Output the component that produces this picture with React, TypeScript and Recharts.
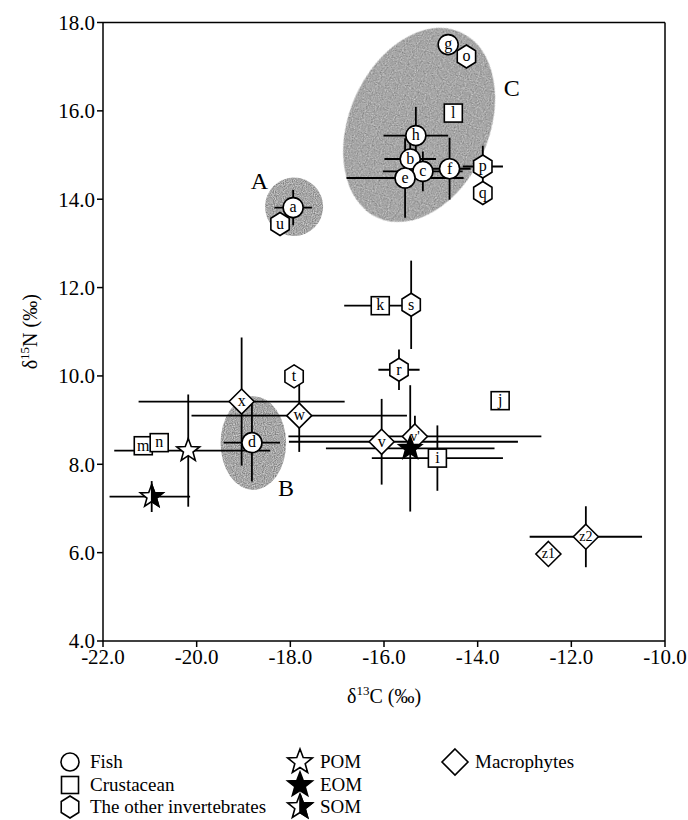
import React from 'react';
import {
  ScatterChart,
  Scatter,
  XAxis,
  YAxis,
  ErrorBar,
  ReferenceArea,
  ReferenceLine,
  ReferenceDot,
  Legend,
} from 'recharts';

const FONT = '"Liberation Serif", "Times New Roman", Times, serif';

// ---------- Fish (circles) ----------
const fishLabels = ['a', 'b', 'c', 'd', 'e', 'f', 'g', 'h'];
const fishC = [-17.94, -15.44, -15.17, -18.82, -15.55, -14.6, -14.63, -15.32];
const fishN = [13.81, 14.91, 14.63, 8.49, 14.48, 14.69, 17.5, 15.44];
const fishCErr = [0.4, 0.55, 0.85, 0.6, 1.25, 0.45, 0, 0.69];
const fishNErr = [0.4, 0.35, 0.45, 0.88, 0.9, 0.7, 0, 0.65];

// ---------- Crustacean (squares) ----------
const crusLabels = ['i', 'j', 'k', 'l', 'm', 'n'];
const crusC = [-14.86, -13.52, -16.08, -14.52, -21.14, -20.8];
const crusN = [8.14, 9.44, 11.59, 15.95, 8.42, 8.49];
const crusCErr = [1.4, 0, 0.77, 0, 0, 0];
const crusNErr = [0.74, 0, 0, 0, 0, 0];

// ---------- The other invertebrates (hexagons) ----------
const invLabels = ['o', 'p', 'q', 'r', 's', 't', 'u'];
const invC = [-14.24, -13.89, -13.89, -15.68, -15.42, -17.92, -18.22];
const invN = [17.23, 14.74, 14.14, 10.14, 11.61, 9.99, 13.44];
const invCErr = [0, 0.43, 0, 0.44, 0, 0, 0];
const invNErr = [0, 0.47, 0, 0.46, 1.0, 0, 0];

// ---------- Macrophytes (diamonds) ----------
const macLabels = ['v', "v'", 'w', 'x', 'z1', 'z2'];
const macC = [-16.05, -15.34, -17.81, -19.04, -12.49, -11.69];
const macN = [8.51, 8.63, 9.1, 9.42, 5.97, 6.36];
const macCErr: (number | number[])[] = [[1.98, 2.91], 2.7, 2.3, 2.2, 0, 1.2];
const macNErr = [0.97, 0.47, 0.82, 1.45, 0, 0.69];

// ---------- Organic matter (stars) ----------
const omNames = ['POM', 'EOM', 'SOM'];
const omC = [-20.18, -15.44, -20.96];
const omN = [8.31, 8.36, 7.27];
const omCErr: (number | number[])[] = [[1.58, 1.75], 1.8, [0.9, 0.82]];
const omNErr = [1.27, 1.43, 0.35];

// ---------- Groups (shaded ellipses) ----------
const groupNames = ['A', 'B', 'C'];
const groupCx = [-17.92, -18.79, -15.25];
const groupCy = [13.83, 8.48, 15.68];
const groupRx = [0.62, 0.7, 1.49];
const groupRy = [0.66, 1.06, 2.3];
const groupTilt = [0, 0, 24];
const groupLabelC = [-18.66, -18.09, -13.27];
const groupLabelN = [14.42, 7.46, 16.52];

// ---------- Axes ----------
const xTicks = [-22, -20, -18, -16, -14, -12, -10];
const yTicks = [4, 6, 8, 10, 12, 14, 16, 18];

const build = (
  labels: string[],
  xs: number[],
  ys: number[],
  exs: (number | number[])[],
  eys: (number | number[])[]
) => labels.map((label, i) => ({ label, x: xs[i], y: ys[i], ex: exs[i], ey: eys[i] }));

const fishData = build(fishLabels, fishC, fishN, fishCErr, fishNErr);
const crusData = build(crusLabels, crusC, crusN, crusCErr, crusNErr);
const invData = build(invLabels, invC, invN, invCErr, invNErr);
const macData = build(macLabels, macC, macN, macCErr, macNErr);
const omData = build(omNames, omC, omN, omCErr, omNErr);
const allData = [...fishData, ...crusData, ...invData, ...macData, ...omData];

const STROKE = 1.6;

const Letter = ({ x, y, t, size = 16 }: any) => (
  <text
    x={x}
    y={y + size * 0.3}
    textAnchor="middle"
    fontFamily={FONT}
    fontSize={size}
    fill="#000"
  >
    {t}
  </text>
);

const CircleMark = ({ cx, cy, label, r = 10 }: any) => (
  <g>
    <circle cx={cx} cy={cy} r={r} fill="#fff" stroke="#000" strokeWidth={STROKE} />
    {label ? <Letter x={cx} y={cy} t={label} /> : null}
  </g>
);

const SquareMark = ({ cx, cy, label, s = 9 }: any) => (
  <g>
    <rect x={cx - s} y={cy - s} width={2 * s} height={2 * s} fill="#fff" stroke="#000" strokeWidth={STROKE} />
    {label ? <Letter x={cx} y={cy} t={label} /> : null}
  </g>
);

const hexPoints = (cx: number, cy: number, R: number) =>
  [0, 1, 2, 3, 4, 5]
    .map((k) => {
      const a = ((-90 + 60 * k) * Math.PI) / 180;
      return `${cx + R * 0.92 * Math.cos(a)},${cy + R * Math.sin(a)}`;
    })
    .join(' ');

const HexMark = ({ cx, cy, label, R = 11.5 }: any) => (
  <g>
    <polygon points={hexPoints(cx, cy, R)} fill="#fff" stroke="#000" strokeWidth={STROKE} />
    {label ? <Letter x={cx} y={cy} t={label} /> : null}
  </g>
);

const DiamondMark = ({ cx, cy, label, h = 12.5 }: any) => (
  <g>
    <polygon
      points={`${cx},${cy - h} ${cx + h},${cy} ${cx},${cy + h} ${cx - h},${cy}`}
      fill="#fff"
      stroke="#000"
      strokeWidth={STROKE}
    />
    {label ? <Letter x={cx} y={cy} t={label} size={label.length > 1 ? 14 : 16} /> : null}
  </g>
);

const starPts = (cx: number, cy: number, R: number, r: number, from = 0, to = 10) => {
  const pts: string[] = [];
  for (let k = from; k < to; k++) {
    const a = ((-90 + 36 * k) * Math.PI) / 180;
    const rad = k % 2 === 0 ? R : r;
    pts.push(`${cx + rad * Math.cos(a)},${cy + rad * Math.sin(a)}`);
  }
  return pts;
};

const StarMark = ({ cx, cy, kind, R = 12 }: any) => {
  const r = R * 0.42;
  const full = starPts(cx, cy, R, r).join(' ');
  if (kind === 'EOM') {
    return <polygon points={full} fill="#000" stroke="#000" strokeWidth={STROKE} />;
  }
  if (kind === 'SOM') {
    const half = starPts(cx, cy, R, r, 0, 6).join(' ');
    return (
      <g>
        <polygon points={full} fill="#fff" stroke="#000" strokeWidth={STROKE} />
        <polygon points={half} fill="#000" stroke="#000" strokeWidth={STROKE} />
      </g>
    );
  }
  return <polygon points={full} fill="#fff" stroke="#000" strokeWidth={STROKE} />;
};

const EllipseShape = (props: any) => {
  const { x, y, width, height, tilt, fid } = props;
  const cx = x + width / 2;
  const cy = y + height / 2;
  return (
    <g>
      <defs>
        <filter
          id={fid}
          x="-10%"
          y="-10%"
          width="120%"
          height="120%"
          colorInterpolationFilters="sRGB"
        >
          <feTurbulence type="fractalNoise" baseFrequency="0.9" numOctaves="1" seed="4" result="noise" />
          <feColorMatrix
            in="noise"
            type="matrix"
            values="0.6 0 0 0 0.35  0.6 0 0 0 0.35  0.6 0 0 0 0.35  0 0 0 0 1"
            result="gray"
          />
          <feComposite in="gray" in2="SourceGraphic" operator="in" />
        </filter>
      </defs>
      <ellipse
        cx={cx}
        cy={cy}
        rx={width / 2}
        ry={height / 2}
        fill="#a6a6a6"
        stroke="none"
        filter={`url(#${fid})`}
        transform={`rotate(${tilt} ${cx} ${cy})`}
      />
    </g>
  );
};

const legendCols = [
  [
    { kind: 'circle', text: 'Fish' },
    { kind: 'square', text: 'Crustacean' },
    { kind: 'hex', text: 'The other invertebrates' },
  ],
  [
    { kind: 'POM', text: 'POM' },
    { kind: 'EOM', text: 'EOM' },
    { kind: 'SOM', text: 'SOM' },
  ],
  [{ kind: 'diamond', text: 'Macrophytes' }],
];
const legendColX = [70, 300, 455];
const legendRowY = [54, 77, 99];

const LegendIcon = ({ kind, cx, cy }: any) => {
  if (kind === 'circle') return <CircleMark cx={cx} cy={cy} r={9} />;
  if (kind === 'square') return <SquareMark cx={cx} cy={cy} s={8.5} />;
  if (kind === 'hex') return <HexMark cx={cx} cy={cy} R={11} />;
  if (kind === 'diamond') return <DiamondMark cx={cx} cy={cy} h={13} />;
  return <StarMark cx={cx} cy={cy} kind={kind} R={13} />;
};

const renderLegend = () => (
  <svg width={688} height={112} style={{ display: 'block' }}>
    {legendCols.map((col, ci) =>
      col.map((item, ri) => (
        <g key={`${ci}-${ri}`}>
          <LegendIcon kind={item.kind} cx={legendColX[ci]} cy={legendRowY[ri]} />
          <text
            x={legendColX[ci] + 20}
            y={legendRowY[ri] + 6}
            fontFamily={FONT}
            fontSize={19}
            fill="#000"
          >
            {item.text}
          </text>
        </g>
      ))
    )}
  </svg>
);

const XTitle = (props: any) => {
  const vb = props.viewBox || {};
  const cx = vb.x + vb.width / 2;
  const y = vb.y + 62;
  return (
    <text x={cx} y={y} textAnchor="middle" fontFamily={FONT} fontSize={20} fill="#000">
      δ<tspan dy={-8} fontSize={13}>13</tspan>
      <tspan dy={8}>C (‰)</tspan>
    </text>
  );
};

const YTitle = (props: any) => {
  const vb = props.viewBox || {};
  const x = vb.x + 37;
  const cy = vb.y + vb.height / 2;
  return (
    <text
      x={x}
      y={cy}
      transform={`rotate(-90 ${x} ${cy})`}
      textAnchor="middle"
      fontFamily={FONT}
      fontSize={20}
      fill="#000"
    >
      δ<tspan dy={-8} fontSize={13}>15</tspan>
      <tspan dy={8}>N (‰)</tspan>
    </text>
  );
};

const tickStyle = { fontFamily: FONT, fontSize: 21, fill: '#000' };

export default function App() {
  return (
    <div style={{ position: 'absolute', left: 0, top: 0, width: 688, height: 820 }}>
      <ScatterChart
        width={688}
        height={820}
        margin={{ top: 22.5, right: 23, bottom: 119, left: 0 }}
      >
        {groupNames.map((g, i) => (
          <ReferenceArea
            key={`area-${g}`}
            x1={groupCx[i] - groupRx[i]}
            x2={groupCx[i] + groupRx[i]}
            y1={groupCy[i] - groupRy[i]}
            y2={groupCy[i] + groupRy[i]}
            ifOverflow="visible"
            shape={(p: any) => <EllipseShape {...p} tilt={groupTilt[i]} fid={`grain-${g}`} />}
          />
        ))}
        {groupNames.map((g, i) => (
          <ReferenceDot
            key={`lab-${g}`}
            x={groupLabelC[i]}
            y={groupLabelN[i]}
            r={0}
            ifOverflow="visible"
            shape={(p: any) => (
              <text
                x={p.cx}
                y={p.cy + 8}
                textAnchor="middle"
                fontFamily={FONT}
                fontSize={24}
                fill="#000"
              >
                {g}
              </text>
            )}
          />
        ))}
        <XAxis
          type="number"
          dataKey="x"
          domain={[-22, -10]}
          ticks={xTicks}
          tickFormatter={(v: number) => v.toFixed(1)}
          allowDataOverflow
          stroke="#000"
          strokeWidth={1.5}
          tick={tickStyle}
          tickLine={{ stroke: '#000', strokeWidth: 1.5 }}
          height={60}
          interval={0}
          label={<XTitle />}
        />
        <YAxis
          type="number"
          dataKey="y"
          domain={[4, 18]}
          ticks={yTicks}
          tickFormatter={(v: number) => v.toFixed(1)}
          allowDataOverflow
          stroke="#000"
          strokeWidth={1.5}
          tick={tickStyle}
          tickLine={{ stroke: '#000', strokeWidth: 1.5 }}
          width={103}
          interval={0}
          label={<YTitle />}
        />
        <ReferenceLine y={18} stroke="#000" strokeWidth={1.5} />
        <ReferenceLine x={-10} stroke="#000" strokeWidth={1.5} />
        <Scatter name="errors" data={allData} isAnimationActive={false} shape={() => <g />} legendType="none">
          <ErrorBar dataKey="ex" direction="x" width={0} stroke="#000" strokeWidth={1.8} />
          <ErrorBar dataKey="ey" direction="y" width={0} stroke="#000" strokeWidth={1.8} />
        </Scatter>
        <Scatter
          name="Macrophytes"
          data={macData}
          isAnimationActive={false}
          shape={(p: any) => <DiamondMark cx={p.cx} cy={p.cy} label={p.payload.label} />}
        />
        <Scatter
          name="OM"
          data={omData}
          isAnimationActive={false}
          shape={(p: any) => <StarMark cx={p.cx} cy={p.cy} kind={p.payload.label} />}
        />
        <Scatter
          name="Crustacean"
          data={crusData}
          isAnimationActive={false}
          shape={(p: any) => <SquareMark cx={p.cx} cy={p.cy} label={p.payload.label} />}
        />
        <Scatter
          name="The other invertebrates"
          data={invData}
          isAnimationActive={false}
          shape={(p: any) => <HexMark cx={p.cx} cy={p.cy} label={p.payload.label} />}
        />
        <Scatter
          name="Fish"
          data={fishData}
          isAnimationActive={false}
          shape={(p: any) => <CircleMark cx={p.cx} cy={p.cy} label={p.payload.label} />}
        />
        <Legend
          layout="vertical"
          align="center"
          verticalAlign="middle"
          content={renderLegend}
          wrapperStyle={{ position: 'absolute', top: 708, left: 0, width: 688, height: 112 }}
        />
      </ScatterChart>
    </div>
  );
}
